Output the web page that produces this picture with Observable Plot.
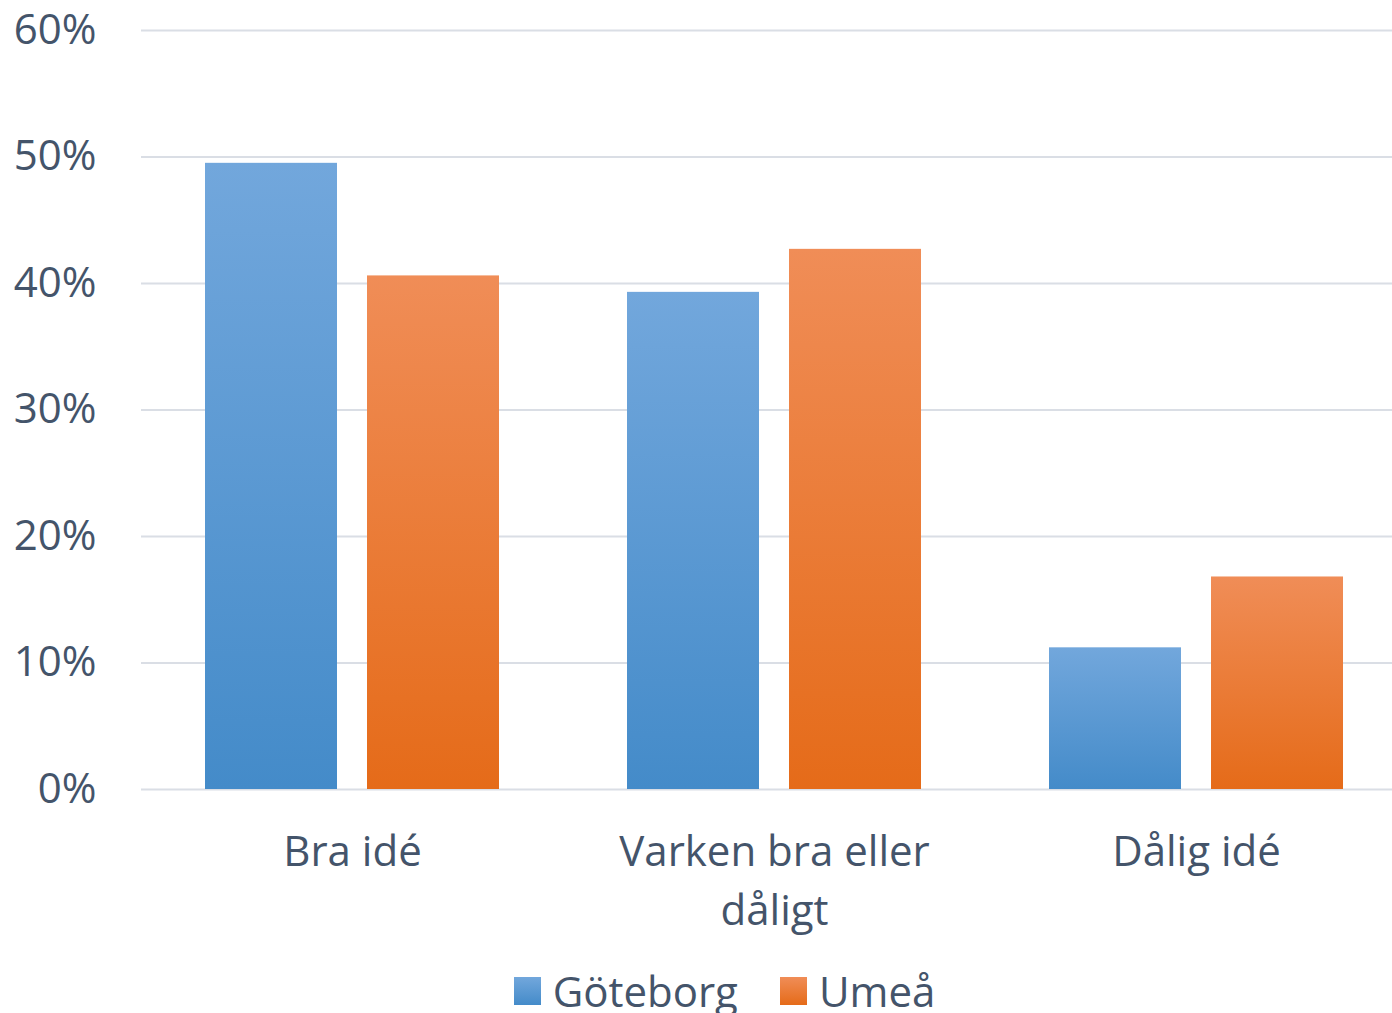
<!DOCTYPE html>
<html>
<head>
<meta charset="utf-8">
<script src="https://cdn.jsdelivr.net/npm/d3@7"></script>
<script src="https://cdn.jsdelivr.net/npm/@observablehq/plot@0.6"></script>
<style>
  html, body { margin: 0; padding: 0; background: #fff; overflow: hidden; }
  body { width: 1392px; height: 1013px; font-family: "Open Sans", sans-serif; color: #44546a; }
  #legend { display: flex; justify-content: center; align-items: center; height: 68px; font-size: 42px; padding-top: 29px; padding-left: 57px; box-sizing: border-box; width: 1392px; }
  .item { display: flex; align-items: center; margin: 0 21px; }
  .sw { width: 27px; height: 28px; margin-right: 12px; }
</style>
</head>
<body>
<div id="chart"></div>
<div id="legend"></div>
<script>
const categories = ["Bra idé", "Varken bra eller dåligt", "Dålig idé"];
const series = ["Göteborg", "Umeå"];
const goteborg = [49.5, 39.3, 11.2];
const umea = [40.6, 42.7, 16.8];
const yTicks = [0, 10, 20, 30, 40, 50, 60];

const data = [];
categories.forEach((c, i) => {
  data.push({category: c, series: "Göteborg", value: goteborg[i]});
  data.push({category: c, series: "Umeå", value: umea[i]});
});

const textColor = "#44546a";
const plot = Plot.plot({
  width: 1392,
  height: 942,
  marginLeft: 141,
  marginRight: 0,
  marginTop: 30,
  marginBottom: 153,
  style: {fontFamily: "'Open Sans', sans-serif", fontSize: "42px", color: textColor, background: "#fff"},
  fx: {domain: categories, range: [141, 1407], padding: 0, label: null},
  x: {domain: series, paddingInner: 0.185, paddingOuter: 0.39, axis: null},
  y: {domain: [0, 60], ticks: yTicks, label: null},
  color: {domain: series, range: ["url(#gradBlue)", "url(#gradOrange)"]},
  marks: [
    Plot.gridY(yTicks, {stroke: "#dadee5", strokeOpacity: 1, strokeWidth: 2}),
    Plot.barY(data, {fx: "category", x: "series", y: "value", fill: "series"}),
    Plot.axisY(yTicks, {tickSize: 0, tickPadding: 45, tickFormat: d => d + "%", fill: textColor, fontSize: 42, label: null}),
    Plot.axisFx({anchor: "bottom", tickSize: 0, tickPadding: 35, fill: textColor, fontSize: 42, lineHeight: 1.4,
      tickFormat: d => d === "Varken bra eller dåligt" ? "Varken bra eller\ndåligt" : d, label: null})
  ]
});

const svg = d3.select(plot);
const defs = svg.insert("defs", ":first-child");
function grad(id, top, bottom) {
  const g = defs.append("linearGradient").attr("id", id).attr("x1", 0).attr("y1", 0).attr("x2", 0).attr("y2", 1);
  g.append("stop").attr("offset", "0%").attr("stop-color", top);
  g.append("stop").attr("offset", "100%").attr("stop-color", bottom);
}
grad("gradBlue", "#72a7dc", "#448bc9");
grad("gradOrange", "#f08d57", "#e56b19");
document.getElementById("chart").appendChild(plot);

const legend = document.getElementById("legend");
const swatchGrad = {"Göteborg": "linear-gradient(#72a7dc, #448bc9)", "Umeå": "linear-gradient(#f08d57, #e56b19)"};
series.forEach(s => {
  const it = document.createElement("div");
  it.className = "item";
  const sw = document.createElement("div");
  sw.className = "sw";
  sw.style.background = swatchGrad[s];
  const t = document.createElement("span");
  t.textContent = s;
  it.appendChild(sw); it.appendChild(t);
  legend.appendChild(it);
});
</script>
</body>
</html>
